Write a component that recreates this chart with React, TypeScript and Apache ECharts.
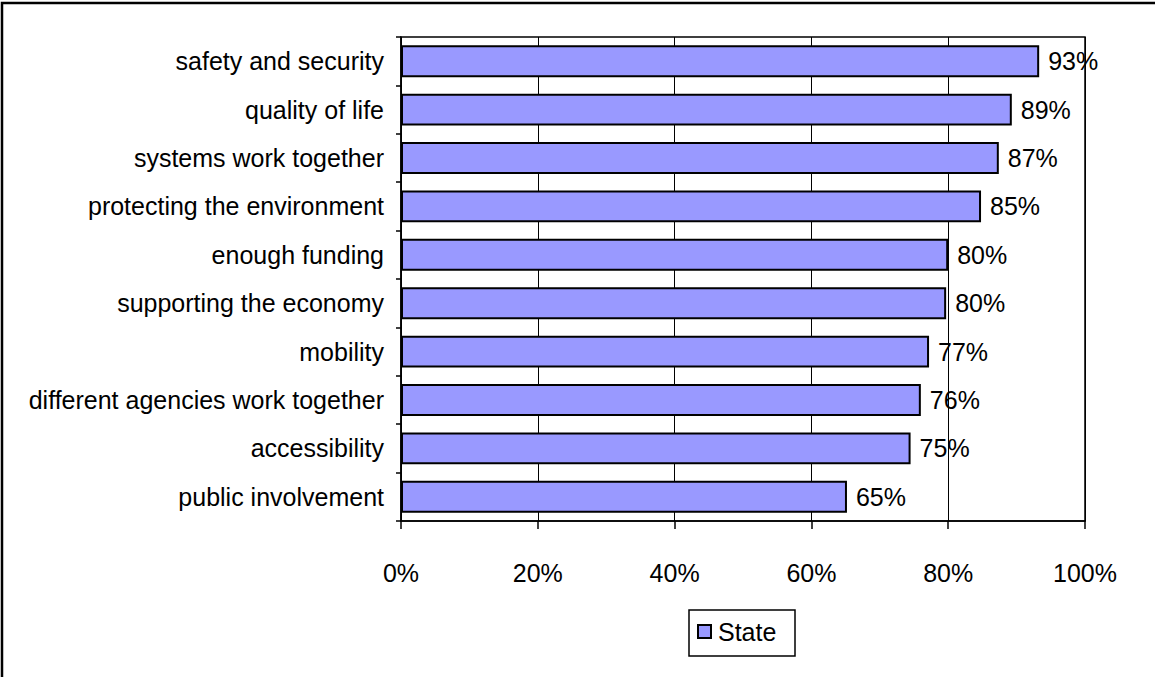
import React, { useEffect, useRef } from "react";
import * as echarts from "echarts";

const categories = [
  "safety and security",
  "quality of life",
  "systems work together",
  "protecting the environment",
  "enough funding",
  "supporting the economy",
  "mobility",
  "different agencies work together",
  "accessibility",
  "public involvement",
];
const stateValues = [93.3, 89.3, 87.4, 84.8, 80.0, 79.7, 77.2, 76.0, 74.5, 65.2];
const xTicks = [0, 20, 40, 60, 80, 100];
const seriesName = "State";

const FONT = "Liberation Sans, Arial, sans-serif";
const FS = 25;

export default function App() {
  const ref = useRef<HTMLDivElement>(null);
  useEffect(() => {
    if (!ref.current) return;
    const chart = echarts.init(ref.current, null, { renderer: "svg" });
    chart.setOption({
      animation: false,
      backgroundColor: "#ffffff",
      textStyle: { fontFamily: FONT },
      grid: {
        left: 401,
        top: 37,
        right: 70,
        bottom: 156,
        show: true,
        borderColor: "#000",
        borderWidth: 1.5,
        backgroundColor: "transparent",
      },
      xAxis: {
        type: "value",
        min: xTicks[0],
        max: xTicks[xTicks.length - 1],
        interval: 20,
        axisLine: { show: true, lineStyle: { color: "#000", width: 1.5 } },
        axisTick: { show: true, length: 8, lineStyle: { color: "#000", width: 1.5 } },
        axisLabel: {
          formatter: (v: number) => `${v}%`,
          color: "#000",
          fontSize: FS,
          fontFamily: FONT,
          margin: 39,
        },
        splitLine: { show: true, lineStyle: { color: "#000", width: 1 } },
      },
      yAxis: {
        type: "category",
        data: categories,
        inverse: true,
        axisLine: { show: true, lineStyle: { color: "#000", width: 1.5 } },
        axisTick: { show: true, length: 5, lineStyle: { color: "#000", width: 1.5 } },
        axisLabel: { color: "#000", fontSize: FS, fontFamily: FONT, margin: 17 },
        splitLine: { show: false },
      },
      legend: {
        show: true,
        left: 697,
        top: 619,
        padding: 0,
        icon: "rect",
        itemWidth: 13,
        itemHeight: 13,
        itemGap: 8,
        textStyle: { color: "#000", fontSize: FS, fontFamily: FONT, padding: [0, 0, 0, 2] },
        data: [seriesName],
      },
      graphic: [
        {
          type: "rect",
          shape: { x: 2, y: 3, width: 1300, height: 800 },
          style: { fill: "none", stroke: "#000", lineWidth: 2.5 },
          silent: true,
          z: 100,
        },
        {
          type: "rect",
          shape: { x: 689, y: 610, width: 106, height: 46 },
          style: { fill: "none", stroke: "#000", lineWidth: 1.5 },
          silent: true,
          z: 100,
        },
      ],
      series: [
        {
          name: seriesName,
          type: "bar",
          data: stateValues,
          barCategoryGap: "34%",
          itemStyle: { color: "#9999FF", borderColor: "#000", borderWidth: 2 },
          label: {
            show: true,
            position: "right",
            distance: 9,
            formatter: (p: any) => `${Math.round(p.value)}%`,
            color: "#000",
            fontSize: FS,
            fontFamily: FONT,
          },
        },
      ],
    });
    return () => chart.dispose();
  }, []);
  return (
    <div
      ref={ref}
      style={{ position: "fixed", left: 0, top: 0, width: 1155, height: 677, background: "#fff" }}
    />
  );
}
